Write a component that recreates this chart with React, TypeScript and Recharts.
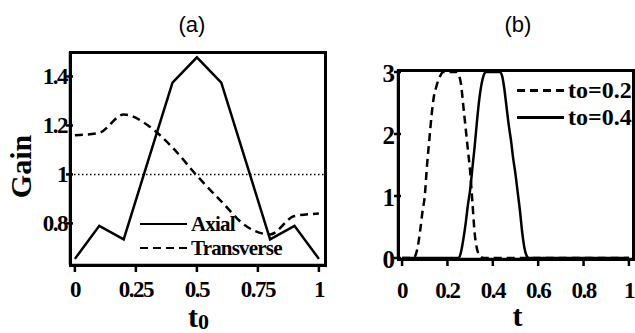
import React from 'react';
import { LineChart, Line, XAxis, YAxis, ReferenceLine, Legend } from 'recharts';

// ---------- Panel (a): Gain vs t0 ----------
const gainT0 = [0, 0.1, 0.2, 0.3, 0.4, 0.5, 0.6, 0.7, 0.8, 0.9, 1];
const axialGain = [0.655, 0.79, 0.735, 1.055, 1.375, 1.478, 1.375, 1.055, 0.735, 0.79, 0.655];
const transverseGain = [1.16, 1.17, 1.245, 1.2, 1.11, 0.995, 0.89, 0.79, 0.755, 0.83, 0.84];
const gainXDomain = [-0.02, 1.025];
const gainYDomain = [0.63, 1.5];
const gainXTicks = [0, 0.25, 0.5, 0.75, 1];
const gainXTickLabels = ['0', '0.25', '0.5', '0.75', '1'];
const gainYTicks = [0.8, 1, 1.2, 1.4];
const gainYTickLabels = ['0.8', '1', '1.2', '1.4'];

// ---------- Panel (b): pulses vs t ----------
const pulseT = [
  0, 0.04, 0.05, 0.06, 0.07, 0.08, 0.09, 0.1, 0.11, 0.12, 0.13, 0.14, 0.15, 0.16, 0.17, 0.18, 0.19,
  0.2, 0.21, 0.22, 0.23, 0.24, 0.25, 0.26, 0.27, 0.28, 0.29, 0.3, 0.31, 0.32, 0.33, 0.34, 0.35, 0.36,
  0.37, 0.38, 0.39, 0.4, 0.41, 0.42, 0.43, 0.44, 0.45, 0.46, 0.47, 0.48, 0.49, 0.5, 0.51, 0.52, 0.53,
  0.54, 0.55, 0.56, 0.6, 0.8, 1,
];
const pulseTo02 = [
  0, 0, 0, 0.05, 0.2, 0.45, 0.75, 1.0, 1.5, 1.9, 2.3, 2.6, 2.75, 2.87, 2.95, 3, 3,
  3, 3, 3, 3, 3, 2.95, 2.8, 2.45, 2.1, 1.75, 1.4, 0.9, 0.4, 0.15, 0.05, 0.01, 0,
  0, 0, 0, 0, 0, 0, 0, 0, 0, 0, 0, 0, 0, 0, 0, 0, 0,
  0, 0, 0, 0, 0, 0,
];
const pulseTo04 = [
  0, 0, 0, 0, 0, 0, 0, 0, 0, 0, 0, 0, 0, 0, 0, 0, 0,
  0, 0, 0, 0, 0, 0, 0.1, 0.3, 0.55, 0.85, 1.1, 1.45, 1.8, 2.2, 2.55, 2.8, 2.95,
  3, 3, 3, 3, 3, 3, 3, 2.95, 2.75, 2.45, 2.15, 1.9, 1.6, 1.35, 1.05, 0.75, 0.4,
  0.15, 0.03, 0, 0, 0, 0,
];
const pulseXDomain = [-0.018, 1.018];
const pulseYDomain = [-0.016, 3.032];
const pulseXTicks = [0, 0.2, 0.4, 0.6, 0.8, 1];
const pulseXTickLabels = ['0', '0.2', '0.4', '0.6', '0.8', '1'];
const pulseYTicks = [0, 1, 2, 3];
const pulseYTickLabels = ['0', '1', '2', '3'];

const gainData = gainT0.map((t, i) => ({ t, axial: axialGain[i], transverse: transverseGain[i] }));
const pulseData = pulseT.map((t, i) => ({ t, a: pulseTo02[i], b: pulseTo04[i] }));

const SERIF = '"Liberation Serif", "Times New Roman", serif';
const SANS = '"Liberation Sans", Arial, sans-serif';

// tick renderer: filled rectangle tick mark + bold serif label
function makeTick(
  ticks: number[],
  labels: string[],
  side: 'bottom' | 'left',
  dx: number,
  dy: number,
  size: number,
  spacing: number
) {
  return (props: any) => {
    const v = props.payload?.value;
    const idx = ticks.findIndex((k) => Math.abs(k - v) < 1e-9);
    const txt = idx >= 0 ? labels[idx] : String(v);
    const x = props.x;
    const y = props.y;
    const mark =
      side === 'bottom' ? (
        <rect x={x - 1.25} y={y - 1} width={2.5} height={8} fill="#000" />
      ) : (
        <rect x={x - 4} y={y - 1.25} width={7} height={2.5} fill="#000" />
      );
    return (
      <g>
        {mark}
        <text
          x={x + dx}
          y={y + dy}
          textAnchor={side === 'bottom' ? 'middle' : 'end'}
          fill="#000"
          fontFamily={SERIF}
          fontWeight="bold"
          fontSize={size}
          letterSpacing={spacing}
        >
          {txt}
        </text>
      </g>
    );
  };
}

const swatch = (dashed: boolean, w: number) => (
  <div
    style={{
      width: w,
      height: 2.5,
      background: dashed
        ? 'repeating-linear-gradient(to right, #000 0px, #000 8px, transparent 8px, transparent 13px)'
        : '#000',
    }}
  />
);

function makeLegend(fontSize: number, rowH: number, lineW: number, gap: number, spacing: number) {
  return (props: any) => {
    const items = props.payload || [];
    return (
      <div>
        {items.map((it: any, i: number) => (
          <div key={i} style={{ display: 'flex', alignItems: 'center', height: rowH }}>
            {swatch(!!it.payload?.strokeDasharray, lineW)}
            <span
              style={{
                marginLeft: gap,
                fontFamily: SERIF,
                fontWeight: 'bold',
                fontSize,
                lineHeight: `${rowH}px`,
                letterSpacing: spacing,
                color: '#000',
                whiteSpace: 'nowrap',
              }}
            >
              {it.value}
            </span>
          </div>
        ))}
      </div>
    );
  };
}

const T0Label = (p: any) => {
  const vb = p.viewBox || { x: 70, y: 265, width: 255 };
  const cx = vb.x + vb.width / 2;
  return (
    <text x={cx + 1} y={vb.y + 62} textAnchor="middle" fill="#000" fontFamily={SERIF} fontWeight="bold">
      <tspan fontSize={30}>t</tspan>
      <tspan fontSize={22} dy={2}>0</tspan>
    </text>
  );
};

const TLabel = (p: any) => {
  const vb = p.viewBox || { x: 398, y: 259, width: 235 };
  const cx = vb.x + vb.width / 2;
  return (
    <text x={cx + 2} y={vb.y + 67} textAnchor="middle" fill="#000" fontFamily={SERIF} fontWeight="bold" fontSize={30}>
      t
    </text>
  );
};

const GainLabel = (p: any) => {
  const vb = p.viewBox || { x: 20, y: 52, width: 50, height: 213 };
  const x = vb.x + 11;
  const y = vb.y + vb.height / 2 + 8;
  return (
    <text x={x} y={y} transform={`rotate(-90 ${x} ${y})`} textAnchor="middle" fill="#000" fontFamily={SERIF} fontWeight="bold" fontSize={30}>
      Gain
    </text>
  );
};

// plot frames (boxes around the two plotting areas, matching the chart margins)
const frameStyle = (left: number, top: number, width: number, height: number): React.CSSProperties => ({
  position: 'absolute',
  left,
  top,
  width,
  height,
  boxSizing: 'border-box',
  border: '3px solid #000',
  pointerEvents: 'none',
});

const SOLID = 'none';

export default function App() {
  return (
    <div style={{ position: 'absolute', left: 0, top: 0, width: 635, height: 333, background: '#fff' }}>
      <div style={{ position: 'absolute', left: 0, top: 8, width: 384, textAlign: 'center', fontFamily: SANS, fontSize: 22, lineHeight: '34px' }}>
        (a)
      </div>
      <div style={{ position: 'absolute', left: 401, top: 8, width: 234, textAlign: 'center', fontFamily: SANS, fontSize: 22, lineHeight: '34px' }}>
        (b)
      </div>

      <div style={{ position: 'absolute', left: 0, top: 0 }}>
        <LineChart width={330} height={333} data={gainData} margin={{ top: 52, right: 5, bottom: 28, left: 20 }}>
          <XAxis
            dataKey="t"
            type="number"
            domain={gainXDomain}
            allowDataOverflow
            ticks={gainXTicks}
            interval={0}
            height={40}
            axisLine={{ stroke: '#000', strokeWidth: 2.5, strokeDasharray: SOLID }}
            tickLine={false}
            tickSize={0}
            tickMargin={0}
            tick={makeTick(gainXTicks, gainXTickLabels, 'bottom', 0, 32, 23, -1.5)}
            label={{ content: T0Label }}
          />
          <YAxis
            type="number"
            domain={gainYDomain}
            allowDataOverflow
            ticks={gainYTicks}
            interval={0}
            width={50}
            axisLine={{ stroke: '#000', strokeWidth: 2.5, strokeDasharray: SOLID }}
            tickLine={false}
            tickSize={0}
            tickMargin={0}
            tick={makeTick(gainYTicks, gainYTickLabels, 'left', -3, 8, 23, -1.5)}
            label={{ content: GainLabel }}
          />
          <ReferenceLine y={1} stroke="#000" strokeWidth={1.5} strokeDasharray="1.5 2.5" />
          <Line name="Axial" dataKey="axial" type="linear" stroke="#000" strokeWidth={2.5} dot={false} isAnimationActive={false} />
          <Line name="Transverse" dataKey="transverse" type="monotone" stroke="#000" strokeWidth={2.5} strokeDasharray="8 5" dot={false} isAnimationActive={false} />
          <Legend
            layout="vertical"
            align="center"
            verticalAlign="middle"
            wrapperStyle={{ position: 'absolute', left: 140, top: 212, width: 'auto', height: 'auto' }}
            content={makeLegend(21, 24, 47, 4, -0.8)}
          />
        </LineChart>
      </div>
      <div style={frameStyle(68.5, 50.5, 258, 216)} />

      <div style={{ position: 'absolute', left: 330, top: 0 }}>
        <LineChart width={305} height={333} data={pulseData} margin={{ top: 70, right: 2, bottom: 34, left: 18 }}>
          <XAxis
            dataKey="t"
            type="number"
            domain={pulseXDomain}
            allowDataOverflow
            ticks={pulseXTicks}
            interval={0}
            height={40}
            axisLine={{ stroke: '#000', strokeWidth: 2.5, strokeDasharray: SOLID }}
            tickLine={false}
            tickSize={0}
            tickMargin={0}
            tick={makeTick(pulseXTicks, pulseXTickLabels, 'bottom', 0, 39, 23, -1.5)}
            label={{ content: TLabel }}
          />
          <YAxis
            type="number"
            domain={pulseYDomain}
            allowDataOverflow
            ticks={pulseYTicks}
            interval={0}
            width={50}
            axisLine={{ stroke: '#000', strokeWidth: 2.5, strokeDasharray: SOLID }}
            tickLine={false}
            tickSize={0}
            tickMargin={0}
            tick={makeTick(pulseYTicks, pulseYTickLabels, 'left', -3, 10, 25, 0)}
          />
          <Line name="to=0.2" dataKey="a" type="monotone" stroke="#000" strokeWidth={2.5} strokeDasharray="8 5" dot={false} isAnimationActive={false} />
          <Line name="to=0.4" dataKey="b" type="monotone" stroke="#000" strokeWidth={2.5} dot={false} isAnimationActive={false} />
          <Legend
            layout="vertical"
            align="center"
            verticalAlign="middle"
            wrapperStyle={{ position: 'absolute', left: 187, top: 77, width: 'auto', height: 'auto' }}
            content={makeLegend(24, 27, 47, 4, 0)}
          />
        </LineChart>
      </div>
      <div style={frameStyle(396.5, 68.5, 238, 192)} />
    </div>
  );
}
